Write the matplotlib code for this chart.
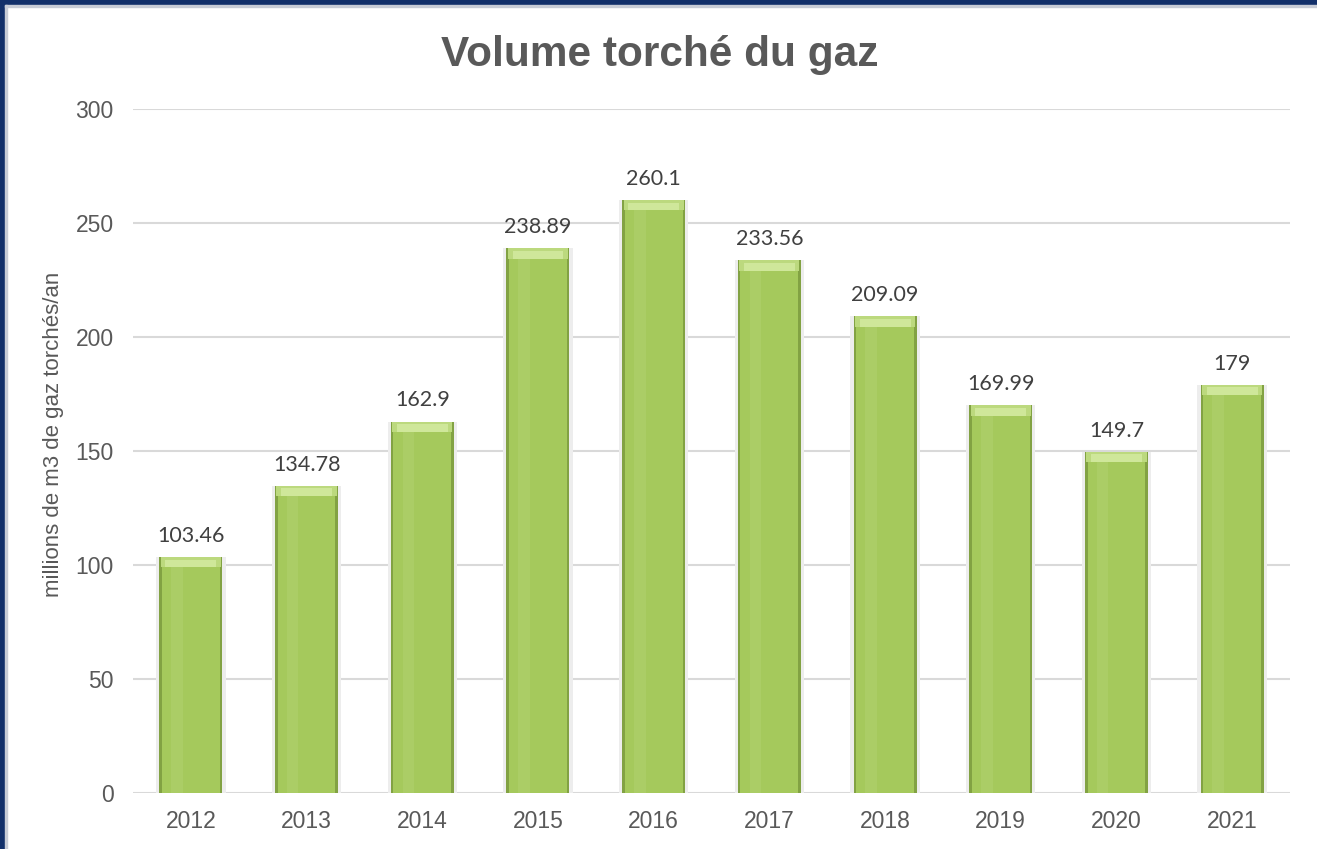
import matplotlib
matplotlib.use('Agg')
import matplotlib.pyplot as plt
from matplotlib.patches import Rectangle

# Data
years = ['2012', '2013', '2014', '2015', '2016', '2017', '2018', '2019', '2020', '2021']
volumes = [103.46, 134.78, 162.9, 238.89, 260.1, 233.56, 209.09, 169.99, 149.7, 179]
value_labels = ['103.46', '134.78', '162.9', '238.89', '260.1', '233.56', '209.09', '169.99', '149.7', '179']
yticks = [0, 50, 100, 150, 200, 250, 300]

plt.rcParams['font.family'] = ['Liberation Sans', 'DejaVu Sans']

fig = plt.figure(figsize=(13.17, 8.49), dpi=100)
fig.patch.set_facecolor('white')

# navy frame on top and left
fig.patches.append(Rectangle((0, 1 - 5/849), 1, 5/849, transform=fig.transFigure,
                             color='#12306a', zorder=10))
fig.patches.append(Rectangle((0, 0), 5/1317, 1, transform=fig.transFigure,
                             color='#12306a', zorder=10))
fig.patches.append(Rectangle((5/1317, 1 - 7/849), 1, 2/849, transform=fig.transFigure,
                             color='#c8ccd6', zorder=10))
fig.patches.append(Rectangle((5/1317, 0), 2/1317, 1 - 5/849, transform=fig.transFigure,
                             color='#c8ccd6', zorder=10))

ax = fig.add_axes([0.101, 0.066, 0.8785, 0.8056])
x = list(range(len(years)))

# gridlines
for t in yticks:
    ax.axhline(t, color='#d9d9d9', linewidth=1.5, zorder=0)

# soft shadow
ax.bar(x, volumes, width=0.6, color='#ededed', zorder=1)
# outer (darker edge)
ax.bar(x, volumes, width=0.545, color='#82a243', zorder=2)
# inner face
ax.bar(x, volumes, width=0.5, color='#a5c95c', zorder=3)
ax.bar([xi - 0.12 for xi in x], volumes, width=0.1, color='#abcd66', zorder=3)
# top bevel
bevel = 4.5
tops = [v - bevel for v in volumes]
ax.bar(x, [bevel] * len(volumes), bottom=tops, width=0.52, color='#bcd97e', zorder=4)
ax.bar(x, [bevel * 0.75] * len(volumes), bottom=tops, width=0.44, color='#cfe79a', zorder=4)

for xi, v, lab in zip(x, volumes, value_labels):
    ax.annotate(lab, (xi, v), xytext=(0, 8), textcoords='offset points',
                ha='center', va='bottom', fontsize=15.5, color='#404040',
                family=['Lato', 'DejaVu Sans'])

ax.set_xlim(-0.5, len(years) - 0.5)
ax.set_ylim(0, 300)
ax.set_yticks(yticks)
ax.set_xticks(x)
ax.set_xticklabels(years)
ax.tick_params(axis='both', length=0, labelsize=16.5, colors='#595959')
ax.tick_params(axis='y', pad=14)
ax.tick_params(axis='x', pad=12)
for s in ax.spines.values():
    s.set_visible(False)

ax.set_ylabel('millions de m3 de gaz torchés/an', fontsize=16, color='#595959')
ax.yaxis.set_label_coords(-0.06, 0.524)
fig.text(0.501, 0.935, 'Volume torché du gaz', ha='center', va='center',
         fontsize=30.5, fontweight='bold', color='#595959')

fig.savefig('out.png', dpi=100)
